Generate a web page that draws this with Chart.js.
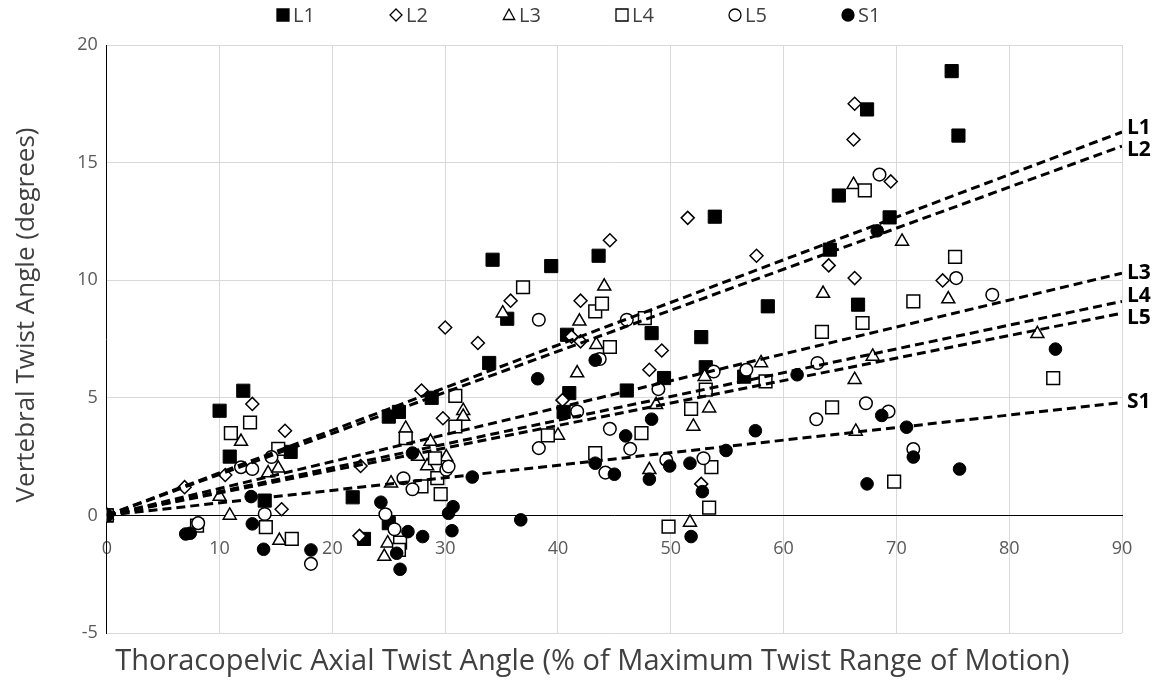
<!DOCTYPE html>
<html>
<head>
<meta charset="utf-8">
<script src="https://cdn.jsdelivr.net/npm/chart.js@4.4.0/dist/chart.umd.min.js"></script>
<style>
  html, body { margin: 0; padding: 0; background: #fff; }
  #wrap { width: 1157px; height: 681px; }
</style>
</head>
<body>
<div id="wrap"><canvas id="twistChart"></canvas></div>
<script>
// values, [x, y] pairs
const L1 = [[0,0],[12.1,5.3],[10.0,4.45],[10.9,2.5],[16.3,2.7],[14.0,0.63],[28.8,5.0],[25.0,4.2],[25.9,4.4],[21.8,0.77],[25.0,-0.33],[22.8,-1.0],[34.2,10.87],[39.4,10.6],[43.6,11.04],[35.5,8.36],[33.9,6.48],[40.8,7.68],[41.0,5.2],[40.5,4.4],[67.4,17.26],[64.9,13.6],[53.9,12.7],[69.4,12.67],[64.1,11.3],[58.6,8.89],[66.6,8.96],[48.3,7.75],[52.7,7.58],[49.4,5.84],[53.1,6.3],[56.5,5.9],[46.1,5.31],[74.9,18.89],[75.5,16.15]];
const L2 = [[0,0],[12.9,4.74],[15.8,3.6],[10.5,1.72],[6.9,1.2],[15.5,0.26],[27.9,5.31],[29.8,4.13],[22.5,2.1],[22.4,-0.87],[35.8,9.13],[30.0,7.99],[32.9,7.33],[42.0,9.13],[41.2,7.6],[42.0,7.4],[40.4,4.9],[66.3,17.5],[66.2,15.98],[69.5,14.2],[51.5,12.65],[44.6,11.7],[57.6,11.04],[64.0,10.63],[66.3,10.09],[49.2,7.01],[48.1,6.19],[52.7,1.34],[74.1,9.99]];
const L3 = [[0,0],[11.9,3.14],[14.3,1.8],[15.2,2.0],[10.0,0.8],[10.9,0.0],[15.3,-1.07],[31.6,4.45],[31.6,4.2],[26.5,3.7],[28.7,3.14],[27.6,2.5],[30.1,2.48],[28.4,2.1],[25.2,1.37],[24.9,-1.18],[24.6,-1.75],[35.1,8.6],[41.7,6.05],[41.9,8.25],[44.1,9.74],[43.4,7.26],[48.7,4.7],[53.4,4.56],[52.0,3.78],[40.0,3.4],[48.1,1.94],[51.7,-0.3],[53.0,5.9],[58.0,6.48],[67.9,6.76],[66.3,5.77],[66.4,3.57],[66.2,14.06],[70.5,11.65],[63.5,9.43],[82.5,7.72],[74.6,9.2]];
const L4 = [[0,0],[12.7,3.95],[11.0,3.5],[15.2,2.83],[8.0,-0.43],[14.1,-0.5],[16.4,-1.0],[30.9,5.08],[30.9,3.78],[26.5,3.28],[29.1,2.43],[29.3,1.58],[27.9,1.23],[29.6,0.9],[26.0,-1.16],[25.9,-1.47],[39.1,3.4],[36.9,9.7],[43.3,8.67],[43.9,9.0],[47.7,8.39],[44.6,7.16],[53.1,5.35],[51.8,4.53],[47.4,3.5],[43.3,2.65],[53.6,2.05],[53.4,0.33],[49.8,-0.48],[67.2,13.82],[67.0,8.18],[63.4,7.8],[58.4,5.7],[64.3,4.59],[69.8,1.44],[83.9,5.84],[75.2,10.99],[71.5,9.1]];
const L5 = [[0,0],[14.6,2.48],[11.9,2.05],[12.9,1.97],[14.0,0.06],[8.1,-0.33],[18.1,-2.06],[30.1,1.94],[30.3,2.08],[26.3,1.58],[27.1,1.11],[24.7,0.05],[25.5,-0.59],[38.3,2.86],[38.3,8.32],[41.7,4.42],[43.7,6.65],[46.1,8.32],[53.8,6.12],[56.7,6.19],[48.9,5.37],[44.6,3.68],[46.4,2.83],[44.2,1.82],[49.6,2.36],[52.9,2.43],[63.0,6.48],[67.3,4.77],[62.9,4.09],[69.3,4.42],[71.5,2.82],[68.5,14.49],[75.3,10.09],[78.5,9.38]];
const S1 = [[0,0],[12.8,0.8],[7.0,-0.79],[7.4,-0.76],[12.9,-0.36],[13.9,-1.44],[18.1,-1.47],[27.1,2.65],[32.4,1.63],[24.3,0.56],[30.7,0.37],[30.3,0.09],[26.7,-0.69],[28.0,-0.9],[30.6,-0.65],[36.7,-0.19],[25.7,-1.61],[26.0,-2.29],[38.2,5.81],[43.3,6.6],[43.3,2.22],[45.0,1.75],[46.0,3.38],[48.3,4.09],[49.9,2.1],[51.7,2.22],[54.9,2.76],[48.1,1.54],[52.8,1.01],[51.8,-0.9],[61.2,5.98],[68.7,4.25],[57.5,3.6],[70.9,3.75],[71.5,2.48],[67.4,1.34],[84.1,7.07],[75.6,1.97],[68.3,12.1]];

const seriesNames = ['L1', 'L2', 'L3', 'L4', 'L5', 'S1'];
const seriesData = [L1, L2, L3, L4, L5, S1];
// trendline value at the right end of the x axis (lines go through the origin)
const trendEndX = 90;
const trendAt90 = [16.3, 15.7, 10.3, 9.1, 8.6, 4.8];

const xTicks = [0, 10, 20, 30, 40, 50, 60, 70, 80, 90];
const yTicks = [-5, 0, 5, 10, 15, 20];
const xTitleText = 'Thoracopelvic Axial Twist Angle (% of Maximum Twist Range of Motion)';
const yTitleText = 'Vertebral Twist Angle (degrees)';

// marker looks
const pointStyles = ['rect', 'rectRot', 'triangle', 'rect', 'circle', 'circle'];
const pointFills = ['#000', '#fff', '#fff', '#fff', '#fff', '#000'];
const pointSizes = [9.3, 6.5, 7.5, 9, 6.3, 6.3];

const FONT = "'Open Sans', 'Liberation Sans', sans-serif";
Chart.defaults.font.family = FONT;

const datasets = [];
seriesData.forEach((pts, i) => {
    datasets.push({
        label: seriesNames[i],
        type: 'scatter',
        data: pts.map(p => ({ x: p[0], y: p[1] })),
        pointStyle: pointStyles[i],
        pointRadius: pointSizes[i],
        pointBackgroundColor: pointFills[i],
        pointBorderColor: '#000',
        pointBorderWidth: i === 0 || i === 5 ? 1 : 1.5,
        showLine: false,
        order: 10 - i
    });
});
trendAt90.forEach((v, i) => {
    datasets.push({
        label: seriesNames[i] + ' trend',
        type: 'line',
        isTrend: true,
        data: [{ x: 0, y: 0 }, { x: trendEndX, y: v }],
        borderColor: '#000',
        borderWidth: 3,
        borderDash: [9, 5],
        pointRadius: 0,
        fill: false,
        order: 0
    });
});

// legend drawn by hand so the spacing matches
function drawMarker(ctx, style, x, y, r, fill) {
    ctx.beginPath();
    if (style === 'rect') {
        ctx.rect(x - r, y - r, 2 * r, 2 * r);
    } else if (style === 'rectRot') {
        ctx.moveTo(x, y - r); ctx.lineTo(x + r, y); ctx.lineTo(x, y + r); ctx.lineTo(x - r, y);
        ctx.closePath();
    } else if (style === 'triangle') {
        ctx.moveTo(x, y - r); ctx.lineTo(x + r * 0.95, y + r * 0.75); ctx.lineTo(x - r * 0.95, y + r * 0.75);
        ctx.closePath();
    } else {
        ctx.arc(x, y, r, 0, Math.PI * 2);
    }
    ctx.fillStyle = fill;
    ctx.fill();
    ctx.lineWidth = 1.3;
    ctx.strokeStyle = '#000';
    ctx.stroke();
}

const legendPlugin = {
    id: 'handLegend',
    afterDraw(chart) {
        const ctx = chart.ctx;
        const step = 113;
        const start = chart.width / 2 - (step * (seriesNames.length - 1) + 38) / 2;
        const y = 15;
        ctx.save();
        ctx.font = '20px ' + FONT;
        ctx.textBaseline = 'middle';
        ctx.textAlign = 'left';
        seriesNames.forEach((name, i) => {
            const x = start + i * step;
            drawMarker(ctx, pointStyles[i], x + 6, y, 6, pointFills[i]);
            ctx.fillStyle = '#404040';
            ctx.fillText(name, x + 16, y + 1);
        });
        ctx.restore();
    }
};

// axis titles: the scales reserve the room, the text is set a bit off the plot centre like Excel does
const titlePlugin = {
    id: 'axisTitles',
    afterDraw(chart) {
        const ctx = chart.ctx;
        const area = chart.chartArea;
        ctx.save();
        ctx.fillStyle = '#404040';
        ctx.textAlign = 'center';
        ctx.textBaseline = 'middle';

        const sx = chart.scales.xTitle;
        ctx.font = '29px ' + FONT;
        ctx.fillText(xTitleText, (area.left + area.right) / 2 - 22, sx.bottom - 1.6 - 17.4);

        const sy = chart.scales.y;
        ctx.font = '26px ' + FONT;
        ctx.translate(sy.left + 3 + 15.6, (area.top + area.bottom) / 2 - 24);
        ctx.rotate(-Math.PI / 2);
        ctx.fillText(yTitleText, 0, 0);
        ctx.restore();
    }
};

// bold labels at the right end of each trendline
const trendLabelPlugin = {
    id: 'trendLabels',
    afterDatasetsDraw(chart) {
        const ctx = chart.ctx;
        const items = [];
        chart.data.datasets.forEach((ds, i) => {
            if (!ds.isTrend) return;
            const end = chart.getDatasetMeta(i).data[1];
            items.push({ text: ds.label.split(' ')[0], x: end.x, y: end.y });
        });
        items.sort((a, b) => a.y - b.y);
        // push overlapping labels apart
        const gap = 22;
        for (let k = 1; k < items.length; k++) {
            const d = items[k].y - items[k - 1].y;
            if (d < gap) {
                const shift = (gap - d) / 2;
                items[k - 1].y -= shift;
                items[k].y += shift;
            }
        }
        ctx.save();
        ctx.font = 'bold 21px ' + FONT;
        ctx.fillStyle = '#000';
        ctx.textAlign = 'left';
        ctx.textBaseline = 'middle';
        items.forEach(it => ctx.fillText(it.text, it.x + 5, it.y));
        ctx.restore();
    }
};

new Chart(document.getElementById('twistChart'), {
    type: 'scatter',
    data: { datasets },
    options: {
        responsive: true,
        maintainAspectRatio: false,
        animation: false,
        layout: { padding: { top: 45, right: 35, bottom: 0, left: 8.4 } },
        plugins: {
            legend: { display: false },
            tooltip: { enabled: false }
        },
        scales: {
            x: {
                type: 'linear',
                position: { y: 0 },
                min: xTicks[0],
                max: xTicks[xTicks.length - 1],
                ticks: { stepSize: xTicks[1] - xTicks[0], color: '#595959', font: { size: 18 }, padding: 23 },
                grid: { color: '#d9d9d9', lineWidth: 1, drawTicks: false },
                border: { color: '#000', width: 1 }
            },
            xTitle: {
                type: 'linear',
                axis: 'x',
                position: 'bottom',
                min: xTicks[0],
                max: xTicks[xTicks.length - 1],
                ticks: { display: false },
                grid: { display: false, drawTicks: false },
                border: { display: false },
                title: {
                    display: true,
                    text: xTitleText,
                    color: 'rgba(0,0,0,0)',
                    font: { size: 29 },
                    padding: { top: 11.6, bottom: 1.6 }
                }
            },
            y: {
                type: 'linear',
                position: 'left',
                min: yTicks[0],
                max: yTicks[yTicks.length - 1],
                ticks: { stepSize: yTicks[1] - yTicks[0], color: '#595959', font: { size: 18 }, padding: 9 },
                grid: { color: '#d9d9d9', lineWidth: 1, drawTicks: false },
                border: { color: '#000', width: 1 },
                title: {
                    display: true,
                    text: yTitleText,
                    color: 'rgba(0,0,0,0)',
                    font: { size: 26 },
                    padding: { top: 3, bottom: 25.6 }
                }
            }
        }
    },
    plugins: [legendPlugin, trendLabelPlugin, titlePlugin]
});
</script>
</body>
</html>
